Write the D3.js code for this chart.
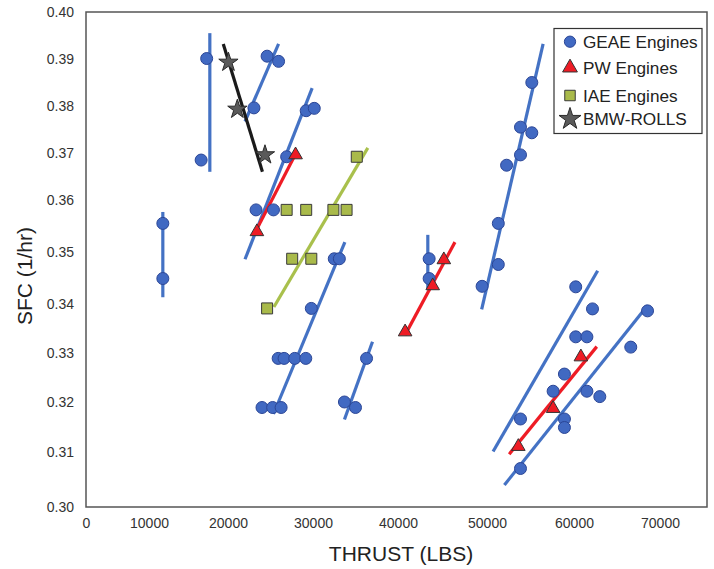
<!DOCTYPE html>
<html>
<head>
<meta charset="utf-8">
<script src="https://cdn.jsdelivr.net/npm/d3@7"></script>
<style>
  html, body { margin: 0; padding: 0; background: #fff; }
  svg { display: block; font-family: "Liberation Sans", Arial, sans-serif; }
</style>
</head>
<body>
<svg id="chart" width="714" height="569"></svg>
<script>
// ---- data ----
const xTicks = [0, 10000, 20000, 30000, 40000, 50000, 60000, 70000];
const yTicks = [0.30, 0.31, 0.32, 0.33, 0.34, 0.35, 0.36, 0.37, 0.38, 0.39, 0.40];

const seriesNames = ["GEAE Engines", "PW Engines", "IAE Engines", "BMW-ROLLS"];

const geaeThrust = [17300, 16600, 23050, 24600, 25950, 23300, 25350, 26900, 29200, 30150,
  11750, 11750, 32500, 33100, 29800, 25900, 26600, 27850, 29150, 24000, 25250, 26250,
  33700, 35000, 36300, 43500, 43500,
  55150, 53850, 55150, 53850, 52250, 51300, 51300, 49450,
  60200, 62150, 60200, 61500, 66600, 68550, 58900, 57600, 61500, 63000, 53850, 58900, 58900, 53850];
const geaeSfc = [0.3901, 0.3685, 0.3796, 0.3906, 0.3895, 0.3581, 0.3581, 0.3692, 0.3790, 0.3795,
  0.3555, 0.3449, 0.3487, 0.3487, 0.3391, 0.3289, 0.3289, 0.3289, 0.3289, 0.3189, 0.3189, 0.3189,
  0.3200, 0.3189, 0.3289, 0.3487, 0.3449,
  0.3850, 0.3755, 0.3743, 0.3696, 0.3674, 0.3555, 0.3476, 0.3434,
  0.3433, 0.3390, 0.3333, 0.3333, 0.3312, 0.3386, 0.3257, 0.3222, 0.3222, 0.3211, 0.3166, 0.3166, 0.3149, 0.3070];

const pwThrust = [23400, 27950, 45150, 43900, 40800, 53600, 57600, 60800];
const pwSfc = [0.3539, 0.3696, 0.3485, 0.3435, 0.3343, 0.3111, 0.3187, 0.3292];

const iaeThrust = [26900, 29200, 32400, 33950, 27550, 29800, 35150, 24600];
const iaeSfc = [0.3581, 0.3581, 0.3581, 0.3581, 0.3487, 0.3487, 0.3692, 0.3391];

const bmwThrust = [20050, 21100, 24350];
const bmwSfc = [0.3893, 0.3793, 0.3696];

// trend lines: [thrust1, sfc1, thrust2, sfc2]
const geaeTrends = [
  [17700, 0.3660, 17700, 0.3955],
  [22000, 0.3767, 25950, 0.3932],
  [22000, 0.3486, 29900, 0.3838],
  [11750, 0.3413, 11750, 0.3577],
  [25350, 0.3176, 33750, 0.3519],
  [33700, 0.3165, 37000, 0.3323],
  [43350, 0.3430, 43350, 0.3533],
  [49400, 0.3389, 56450, 0.3932],
  [50700, 0.3101, 62750, 0.3464],
  [52000, 0.3040, 68550, 0.3397]
];
const pwTrends = [
  [23050, 0.3533, 28100, 0.3703],
  [40800, 0.3337, 46400, 0.3519],
  [52550, 0.3096, 62650, 0.3313]
];
const iaeTrends = [[25400, 0.3394, 36450, 0.3711]];
const bmwTrends = [[19400, 0.3932, 24050, 0.3660]];

// ---- layout ----
const frame = { left: 86, top: 12, right: 707, bottom: 507 };
// the source axes are slightly uneven, so tick positions are pinned
const xTickPx = [86, 149, 228, 313, 398, 487, 574, 660];
const yTickPx = [507, 452, 402, 353, 304, 252, 200, 153, 106, 59, 12];

const blue = "#4472C4", red = "#EE1C25", green = "#A9C04C";

const svg = d3.select("#chart");
const x = d3.scaleLinear().domain(xTicks).range(xTickPx);
const y = d3.scaleLinear().domain(yTicks).range(yTickPx);

// frame
svg.append("rect")
  .attr("x", frame.left).attr("y", frame.top)
  .attr("width", frame.right - frame.left).attr("height", frame.bottom - frame.top)
  .attr("fill", "none").attr("stroke", "#555").attr("stroke-width", 1.5);

// axes
const xAxis = svg.append("g")
  .attr("transform", `translate(0,${frame.bottom})`)
  .call(d3.axisBottom(x).tickValues(xTicks).tickSize(0).tickPadding(11).tickFormat(d3.format("d")));
const yAxis = svg.append("g")
  .attr("transform", `translate(${frame.left},0)`)
  .call(d3.axisLeft(y).tickValues(yTicks).tickSize(0).tickPadding(12).tickFormat(d3.format(".2f")));
[xAxis, yAxis].forEach(a => {
  a.select(".domain").remove();
  a.selectAll("text").attr("font-size", 14).attr("fill", "#333")
    .attr("font-family", "'Liberation Sans', Arial, sans-serif");
});

svg.append("text")
  .attr("x", 401).attr("y", 561)
  .attr("text-anchor", "middle").attr("font-size", 21).attr("fill", "#222")
  .text("THRUST (LBS)");
svg.append("text")
  .attr("transform", "translate(32,276) rotate(-90)")
  .attr("text-anchor", "middle").attr("font-size", 21).attr("fill", "#222")
  .text("SFC (1/hr)");

// trend lines
function drawTrends(list, color) {
  svg.append("g").selectAll("line").data(list).join("line")
    .attr("x1", d => x(d[0])).attr("y1", d => y(d[1]))
    .attr("x2", d => x(d[2])).attr("y2", d => y(d[3]))
    .attr("stroke", color).attr("stroke-width", 3.2).attr("stroke-linecap", "butt");
}
drawTrends(geaeTrends, blue);
drawTrends(pwTrends, red);
drawTrends(iaeTrends, green);
drawTrends(bmwTrends, "#1a1a1a");

// markers
const markerStyle = [
  { sym: d3.symbolCircle, size: 113, fill: "#4169C2", stroke: "#2B4696" },
  { sym: d3.symbolTriangle, size: 80, fill: "#EE1C25", stroke: "#333" },
  { sym: d3.symbolSquare, size: 121, fill: "#A9BA4A", stroke: "#3a3a3a" },
  { sym: d3.symbolStar, size: 115, fill: "#5A5A5A", stroke: "#2a2a2a" }
];
const seriesPts = [
  d3.zip(geaeThrust, geaeSfc),
  d3.zip(pwThrust, pwSfc),
  d3.zip(iaeThrust, iaeSfc),
  d3.zip(bmwThrust, bmwSfc)
];
seriesPts.forEach((pts, i) => {
  const s = markerStyle[i];
  svg.append("g").selectAll("path").data(pts).join("path")
    .attr("transform", d => `translate(${x(d[0])},${y(d[1])})`)
    .attr("d", d3.symbol(s.sym, s.size))
    .attr("fill", s.fill).attr("stroke", s.stroke).attr("stroke-width", 1);
});

// legend
const lg = svg.append("g");
lg.append("rect")
  .attr("x", 554).attr("y", 28.5).attr("width", 148).attr("height", 105)
  .attr("fill", "#fff").attr("stroke", "#333").attr("stroke-width", 1.2);
const rowY = [41.7, 67.7, 95.5, 119];
const legendSize = [100, 95, 110, 150];
seriesNames.forEach((name, i) => {
  const s = markerStyle[i];
  lg.append("path")
    .attr("transform", `translate(570,${rowY[i]})`)
    .attr("d", d3.symbol(s.sym, legendSize[i]))
    .attr("fill", s.fill).attr("stroke", s.stroke).attr("stroke-width", 1);
  lg.append("text")
    .attr("x", 583).attr("y", rowY[i]).attr("dy", "0.35em")
    .attr("font-size", 17.2).attr("fill", "#222")
    .text(name);
});
</script>
</body>
</html>
